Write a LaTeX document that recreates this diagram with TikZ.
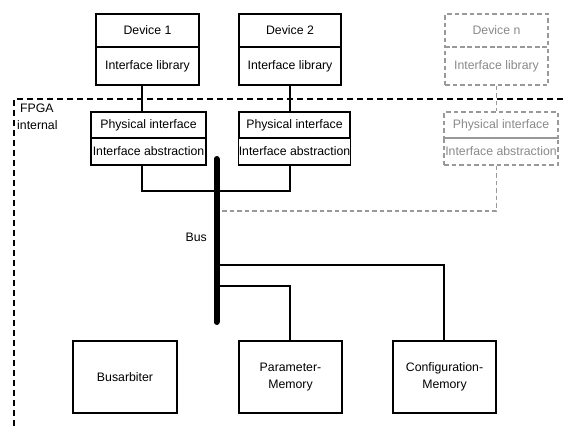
\documentclass[tikz,border=0pt]{standalone}
\usepackage{fontspec}
\setmainfont{Liberation Sans}
\definecolor{ghost}{HTML}{999999}
\definecolor{ghosttext}{HTML}{8A8A8A}
\tikzset{
  box/.style={draw=black, line width=1.3pt, inner sep=0pt, fill=white, font=\fontsize{12.3}{16.5}\selectfont, align=center},
  gbox/.style={draw=ghost, line width=1.2pt, dash pattern=on 4.5pt off 3pt, inner sep=0pt, text=ghosttext, font=\fontsize{12.3}{16.5}\selectfont, align=center},
  wire/.style={draw=black, line width=1.1pt},
  gwire/.style={draw=ghost, line width=1.2pt, dash pattern=on 4.5pt off 3pt},
  fpga/.style={draw=black, line width=1.6pt, dash pattern=on 6pt off 4pt},
  lbl/.style={font=\fontsize{12.3}{16.5}\selectfont, inner sep=0pt, align=left}
}
\begin{document}
\begin{tikzpicture}[x=1pt,y=-1pt]
\useasboundingbox[fill=white] (0,0) rectangle (563,426);

% FPGA boundary
\coordinate (fl) at (14,426);
\coordinate (fc) at (14,99);
\coordinate (fr) at (563,99);
\draw[fpga] (fl) -- (fc) -- (fr);
\node[lbl, anchor=north west] (fpgalbl) at (17,104) {\hspace*{3pt}FPGA\\internal};

% connector x positions
\coordinate (c1) at (142,0);
\coordinate (c2) at (290,0);
\coordinate (cn) at (496.5,0);
\coordinate (cc) at (444,0);

% Device 1
\node[box, minimum width=103pt, minimum height=33pt] (d1a) at (147.5,30.5) {Device 1};
\node[box, minimum width=103pt, minimum height=38pt] (d1b) at (147.5,66) {Interface library};
% Device 2
\node[box, minimum width=102pt, minimum height=33pt] (d2a) at (290,30.5) {Device 2};
\node[box, minimum width=102pt, minimum height=38pt] (d2b) at (290,66) {Interface library};
% Device n
\node[gbox, minimum width=103pt, minimum height=33pt] (dna) at (496.5,30.5) {Device n};
\node[gbox, minimum width=103pt, minimum height=38pt] (dnb) at (496.5,66) {Interface library};

% Physical interfaces
\node[box, minimum width=115pt, minimum height=26pt] (p1a) at (148.5,125) {Physical interface};
\node[box, minimum width=115pt, minimum height=27pt] (p1b) at (148.5,151.5) {Interface abstraction};
\node[box, minimum width=111pt, minimum height=26pt] (p2a) at (294.5,125) {Physical interface};
\node[box, minimum width=111pt, minimum height=27pt] (p2b) at (294.5,151.5) {Interface abstraction};
\node[gbox, minimum width=114pt, minimum height=26pt] (pna) at (501,125) {Physical interface};
\node[gbox, minimum width=114pt, minimum height=27pt] (pnb) at (501,151.5) {Interface abstraction};

% device to phys connectors
\draw[wire] (d1b.south -| c1) -- (p1a.north -| c1);
\draw[wire] (d2b.south -| c2) -- (p2a.north -| c2);
\draw[gwire] (dnb.south -| cn) -- (pna.north -| cn);

% Bus
\coordinate (bustop) at (216.5,159);
\coordinate (busbot) at (216.5,322);
\node[lbl, anchor=east] (buslbl) at (207,237) {Bus};

% phys to bus
\coordinate (j1) at (142,191);
\coordinate (j2) at (290,191);
\draw[wire] (p1b.south -| c1) -- (j1) -- (j2) -- (p2b.south -| c2);
\coordinate (jn) at (496.5,211);
\draw[gwire] (pnb.south -| cn) -- (jn) -- (bustop |- jn);

% Bottom boxes
\node[box, minimum width=104pt, minimum height=72pt] (arb) at (125,377) {Busarbiter};
\node[box, minimum width=103pt, minimum height=72pt] (par) at (290.5,377) {Parameter-\\Memory};
\node[box, minimum width=103pt, minimum height=72pt] (cfg) at (444.5,377) {Configuration-\\Memory};

% bus branches
\coordinate (bc) at (216.5,265);
\coordinate (bp) at (216.5,286);
\draw[wire] (bc) -- (cc |- bc) -- (cfg.north -| cc);
\draw[wire] (bp) -- (c2 |- bp) -- (par.north -| c2);

\draw[line width=6pt, line cap=round] (bustop) -- (busbot);
\end{tikzpicture}
\end{document}
